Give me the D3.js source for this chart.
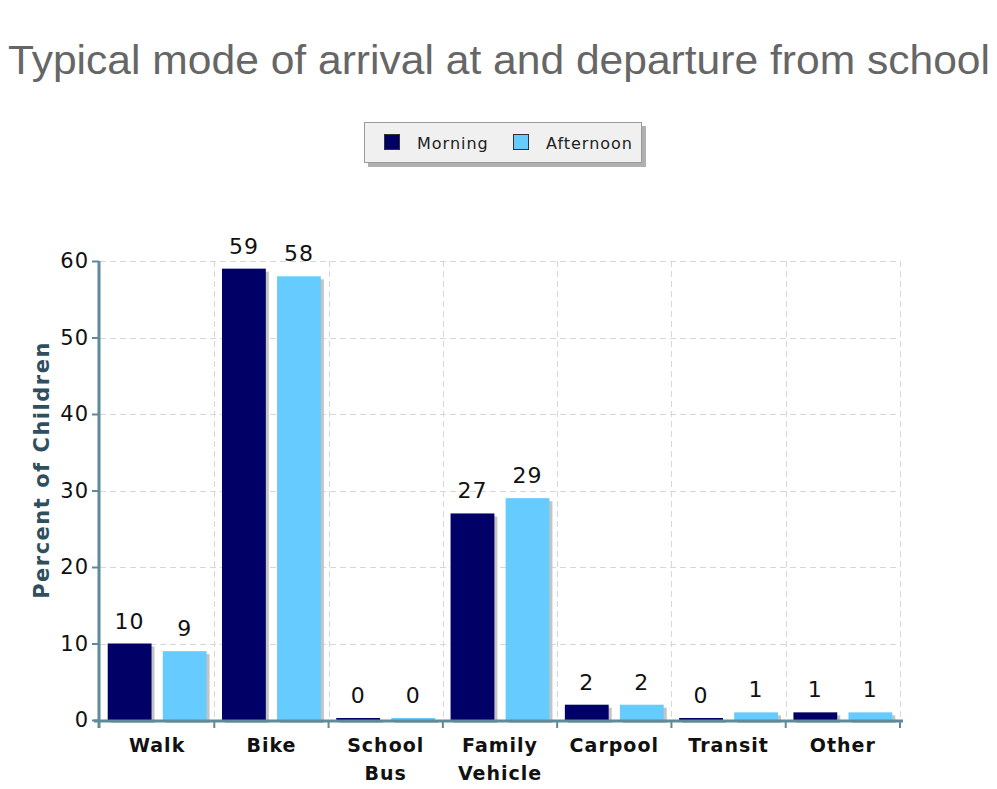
<!DOCTYPE html>
<html>
<head>
<meta charset="utf-8">
<script src="https://cdn.jsdelivr.net/npm/d3@7"></script>
<style>
  body { margin: 0; background: #fff; }
  svg { display: block; }
</style>
</head>
<body>
<script>
const categories = ['Walk', 'Bike', 'School\nBus', 'Family\nVehicle', 'Carpool', 'Transit', 'Other']
const seriesNames = ['Morning', 'Afternoon']
const morning = [10, 59, 0, 27, 2, 0, 1]
const afternoon = [9, 58, 0, 29, 2, 1, 1]
const yTicks = [0, 10, 20, 30, 40, 50, 60]
const colors = ['#000066', '#66ccff']

const w = 997
const h = 789
const plotLeft = 100, plotRight = 900, plotTop = 261, plotBottom = 720
const font = 'DejaVu Sans, sans-serif'

const svg = d3.select('body').append('svg')
  .attr('width', w)
  .attr('height', h)

// title
svg.append('text')
  .attr('x', 8)
  .attr('y', 74)
  .attr('textLength', 982)
  .attr('lengthAdjust', 'spacingAndGlyphs')
  .style('font-family', 'Liberation Sans, Arial, sans-serif')
  .style('font-size', '41px')
  .style('fill', '#666')
  .text('Typical mode of arrival at and departure from school')

// legend
const lg = svg.append('g')
lg.append('rect').attr('x', 368).attr('y', 126).attr('width', 278).attr('height', 41).attr('fill', '#b0b0b0')
lg.append('rect').attr('x', 364.5).attr('y', 122.5).attr('width', 277).attr('height', 40)
  .attr('fill', '#f0f0f0').attr('stroke', '#9a9a9a')
const legendX = [384, 513]
seriesNames.forEach((s, i) => {
  lg.append('rect').attr('x', legendX[i] + 0.5).attr('y', 134.5).attr('width', 15).attr('height', 15)
    .attr('fill', colors[i]).attr('stroke', '#333')
  lg.append('text').attr('x', legendX[i] + 33).attr('y', 149)
    .style('font-family', font).style('font-size', '16px').style('letter-spacing', '1px')
    .style('fill', '#222')
    .text(s)
})

const x = d3.scaleBand().domain(categories).range([plotLeft, plotRight]).padding(0)
const xs = d3.scaleBand().domain(seriesNames).range([0, x.bandwidth()])
  .paddingInner(0.204).paddingOuter(0.14)
const y = d3.scaleLinear().domain([0, 60]).range([plotBottom, plotTop])

// grid
const grid = svg.append('g').attr('stroke', '#d4d8dc').attr('stroke-dasharray', '6,4')
yTicks.filter(t => t > 0).forEach(t => {
  grid.append('line').attr('x1', plotLeft).attr('x2', plotRight)
    .attr('y1', Math.round(y(t)) + 0.5).attr('y2', Math.round(y(t)) + 0.5)
})
categories.forEach(c => {
  const xx = Math.round(x(c) + x.bandwidth()) + 0.5
  grid.append('line').attr('x1', xx).attr('x2', xx).attr('y1', plotTop).attr('y2', plotBottom)
})

// bars
const rows = categories.map((c, i) => ({ cat: c, vals: [morning[i], afternoon[i]] }))
const groups = svg.selectAll('.grp').data(rows).enter().append('g')
  .attr('transform', d => `translate(${x(d.cat)},0)`)

groups.each(function (d) {
  const g = d3.select(this)
  d.vals.forEach((v, i) => {
    const bx = xs(seriesNames[i])
    const by = y(v)
    const bh = Math.max(plotBottom - by, 2)
    g.append('rect').attr('x', bx + 3).attr('y', plotBottom - bh + 3)
      .attr('width', xs.bandwidth()).attr('height', bh).attr('fill', '#c4c4c4')
    g.append('rect').attr('x', bx).attr('y', plotBottom - bh)
      .attr('width', xs.bandwidth()).attr('height', bh).attr('fill', colors[i])
    g.append('text').attr('x', bx + xs.bandwidth() / 2).attr('y', plotBottom - bh - 15)
      .attr('text-anchor', 'middle')
      .style('font-family', font).style('font-size', '22px').style('letter-spacing', '1px')
      .style('fill', '#111')
      .text(v)
  })
})

// axes
const axisColor = '#5f8a9a'
const yAxis = svg.append('g').attr('transform', `translate(${plotLeft - 1},0)`)
  .call(d3.axisLeft(y).tickValues(yTicks).tickSize(7).tickPadding(3))
yAxis.select('.domain').attr('stroke', axisColor).attr('stroke-width', 3)
  .attr('d', `M0,${plotTop}V${plotBottom + 8}`)
yAxis.selectAll('.tick line').attr('stroke', axisColor).attr('stroke-width', 2)
yAxis.selectAll('.tick text')
  .style('font-family', font).style('font-size', '21px').style('letter-spacing', '1px')
  .style('fill', '#111')

const xAxis = svg.append('g').attr('transform', `translate(0,${plotBottom + 1})`)
xAxis.append('line').attr('x1', plotLeft - 6).attr('x2', plotRight + 3).attr('y1', 0).attr('y2', 0)
  .attr('stroke', axisColor).attr('stroke-width', 3)
categories.forEach(c => {
  const xx = x(c) + x.bandwidth()
  xAxis.append('line').attr('x1', xx).attr('x2', xx).attr('y1', 0).attr('y2', 7)
    .attr('stroke', axisColor).attr('stroke-width', 2)
})
categories.forEach(c => {
  const t = xAxis.append('text').attr('text-anchor', 'middle')
    .attr('transform', `translate(${x(c) + x.bandwidth() / 2},0)`)
    .style('font-family', font).style('font-size', '19px').style('letter-spacing', '1px')
    .style('font-weight', 'bold').style('fill', '#111')
  c.split('\n').forEach((line, k) => {
    t.append('tspan').attr('x', 0).attr('y', 31 + k * 28).text(line)
  })
})

// y label
svg.append('text')
  .attr('transform', 'translate(49,470) rotate(-90)')
  .attr('text-anchor', 'middle')
  .style('font-family', font).style('font-size', '21px').style('letter-spacing', '1.5px')
  .style('font-weight', 'bold').style('fill', '#2f4f5f')
  .text('Percent of Children')
</script>
</body>
</html>
